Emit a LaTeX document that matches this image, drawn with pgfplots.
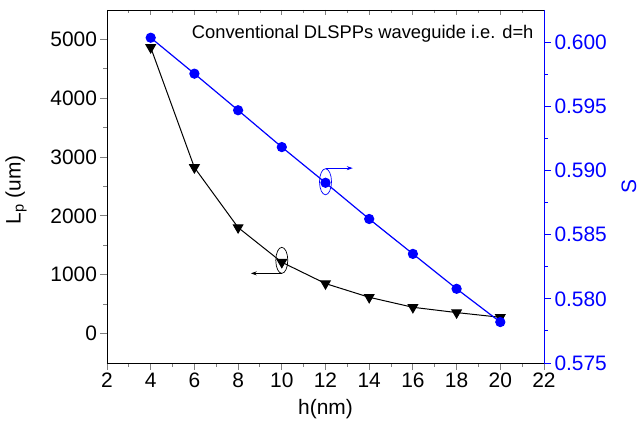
\documentclass[border=0pt]{standalone}
\usepackage{fontspec}
\setmainfont{Liberation Sans}
\usepackage{pgfplots}
\pgfplotsset{compat=1.18}
\usetikzlibrary{arrows.meta}

\begin{document}
\begin{tikzpicture}
\useasboundingbox (-107bp,-66bp) rectangle (533bp,363bp);
\pgfplotsset{
  common/.style={scale only axis, width=437bp, height=353bp, xmin=2, xmax=22,
    /pgf/number format/assume math mode=true,
    /pgf/number format/1000 sep={},
    scaled ticks=false,
    tick label style={font=\fontsize{21}{25}\selectfont},
    label style={font=\fontsize{21}{25}\selectfont},
    axis line style={line width=0.9bp},
    every tick/.append style={line width=0.9bp},
    clip=false,
  }
}
% top mirror ticks
\begin{axis}[common, axis x line*=top, axis y line=none, xtick={2,4,...,22}, minor x tick num=1,
  xticklabels={}, xtick align=inside, major tick length=5bp, minor tick length=3.5bp, ymin=0, ymax=1]
\addplot[draw=none] coordinates {(2,0.5)};
\end{axis}
% left axis
\begin{axis}[common, axis x line*=bottom, axis y line*=left, ymin=-500, ymax=5500,
  xtick={2,4,...,22}, ytick={0,1000,2000,3000,4000,5000}, minor x tick num=1, minor y tick num=1,
  tick align=outside, major tick length=6.5bp, minor tick length=3.5bp,
  xlabel={h(nm)}, ylabel={L\textsubscript{p} (um)},
  xlabel style={at={(axis description cs:0.5,-0.13)}, anchor=center},
  ylabel style={at={(axis description cs:-0.208,0.49)}, anchor=center}]
\addplot[black, line width=1bp, mark=triangle*, mark size=5.5bp, mark options={rotate=180}] coordinates {
(4,4864) (6,2823) (8,1803) (10,1213) (12,850) (14,617) (16,447) (18,357) (20,277)};
\draw[black, line width=0.7bp] (axis cs:10,1245) ellipse [x radius=6bp, y radius=13bp];
\draw[black, line width=0.8bp, -{Stealth[length=6bp,width=4bp]}] (axis cs:10,1024) -- (axis cs:8.58,1024);
\end{axis}
% right axis
\begin{axis}[common, axis x line=none, axis y line*=right, ymin=0.575, ymax=0.6025,
  ytick={0.575,0.580,0.585,0.590,0.595,0.600}, minor y tick num=1,
  yticklabel style={blue, /pgf/number format/.cd, fixed, fixed zerofill, precision=3},
  axis line style={blue}, ytick style={blue},
  tick align=outside, major tick length=7bp, minor tick length=3.5bp,
  ylabel={S}, ylabel style={blue, at={(axis description cs:1.1945,0.5)}, anchor=center}]
\addplot[blue, line width=1.2bp, mark=*, mark size=4.5bp] coordinates {
(4,0.60034) (6,0.59754) (8,0.59469) (10,0.59182) (12,0.58904) (14,0.58622) (16,0.58350) (18,0.58078) (20,0.57819)};
\draw[blue, line width=0.7bp] (axis cs:12,0.58912) ellipse [x radius=6bp, y radius=13bp];
\draw[blue, line width=0.8bp, -{Stealth[length=6bp,width=4bp]}] (axis cs:12,0.59018) -- (axis cs:13.25,0.59018);
\node[anchor=base east, font=\fontsize{18.4}{22}\selectfont, xshift=-7bp, yshift=-28.5bp] at (rel axis cs:1,1) {Conventional DLSPPs waveguide i.e. d=h};
\end{axis}
\end{tikzpicture}
\end{document}
